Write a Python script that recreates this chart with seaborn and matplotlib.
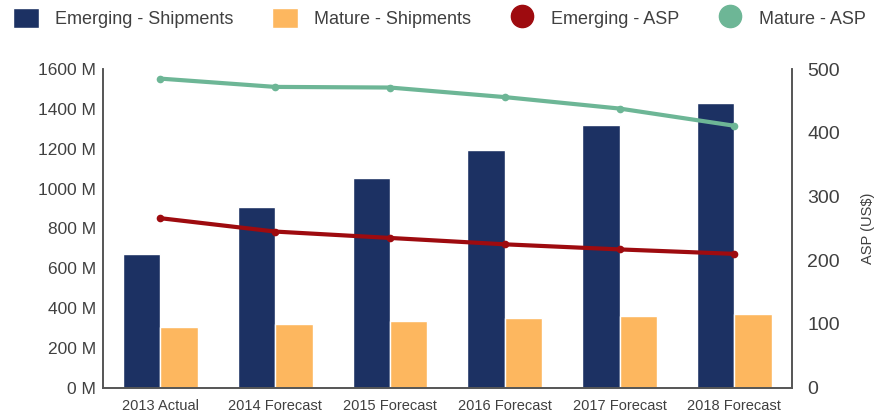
import matplotlib
matplotlib.use("Agg")
import matplotlib.pyplot as plt
from matplotlib.lines import Line2D
from matplotlib.patches import Patch
import numpy as np
import pandas as pd
import seaborn as sns

# data
years = ["2013 Actual", "2014 Forecast", "2015 Forecast",
         "2016 Forecast", "2017 Forecast", "2018 Forecast"]
emerging_shipments = [672, 905, 1055, 1192, 1320, 1432]   # millions of units
mature_shipments = [305, 322, 337, 350, 362, 370]
emerging_asp = [266, 245, 235, 225, 217, 210]              # US$
mature_asp = [485, 472, 471, 456, 438, 411]

navy = "#1c3163"
orange = "#fdb75f"
red = "#9e0b0f"
green = "#6db696"
text_col = "#404040"
spine_col = "#555555"

sns.set_theme(style="white")
plt.rcParams["font.family"] = ["Liberation Sans", "DejaVu Sans"]

ship_df = pd.DataFrame({
    "year": years * 2,
    "units": emerging_shipments + mature_shipments,
    "series": ["Emerging - Shipments"] * 6 + ["Mature - Shipments"] * 6,
})
asp_df = pd.DataFrame({
    "x": list(range(len(years))) * 2,
    "asp": emerging_asp + mature_asp,
    "series": ["Emerging - ASP"] * 6 + ["Mature - ASP"] * 6,
})

fig = plt.figure(figsize=(8.9, 4.16), dpi=100)
ax = fig.add_axes([0.1157, 0.068, 0.774, 0.766])

sns.barplot(data=ship_df, x="year", y="units", hue="series",
            palette=[navy, orange], width=0.65, saturation=1,
            legend=False, ax=ax)

ax2 = ax.twinx()
sns.lineplot(data=asp_df, x="x", y="asp", hue="series",
             palette=[red, green], marker="o", markersize=5.5,
             markeredgewidth=0, linewidth=3, legend=False, ax=ax2)

ax.set_xlim(-0.5, 5.5)
ax.set_ylim(0, 1600)
ax2.set_ylim(0, 500)
ax.set_yticks(np.arange(0, 1601, 200))
ax.set_yticklabels([f"{v} M" for v in range(0, 1601, 200)])
ax2.set_yticks(np.arange(0, 501, 100))

ax.set_xlabel("")
ax.set_ylabel("")
ax2.set_xlabel("")
ax2.set_ylabel("ASP (US$)", color=text_col, fontsize=10.5, labelpad=15)

ax.tick_params(axis="y", length=0, labelsize=12.5, labelcolor=text_col, pad=5)
ax.tick_params(axis="x", length=0, labelsize=10.5, labelcolor=text_col, pad=8)
ax2.tick_params(axis="y", length=0, labelsize=14, labelcolor=text_col, pad=11)

for a in (ax, ax2):
    a.spines["top"].set_visible(False)
    for s in ("left", "right", "bottom"):
        a.spines[s].set_color(spine_col)
        a.spines[s].set_linewidth(1.2)

handles = [
    Patch(facecolor=navy, label="Emerging - Shipments"),
    Patch(facecolor=orange, label="Mature - Shipments"),
    Line2D([], [], linestyle="", marker="o", markersize=16,
           color=red, label="Emerging - ASP"),
    Line2D([], [], linestyle="", marker="o", markersize=16,
           color=green, label="Mature - ASP"),
]
leg = fig.legend(handles=handles, loc="center left",
                 bbox_to_anchor=(13 / 890, 1 - 18 / 416),
                 ncol=4, frameon=False, fontsize=13, borderpad=0,
                 borderaxespad=0, handlelength=1.44, handleheight=1.28,
                 handletextpad=0.9, columnspacing=2.1)
for t in leg.get_texts():
    t.set_color(text_col)

fig.savefig("out.png", dpi=100)
